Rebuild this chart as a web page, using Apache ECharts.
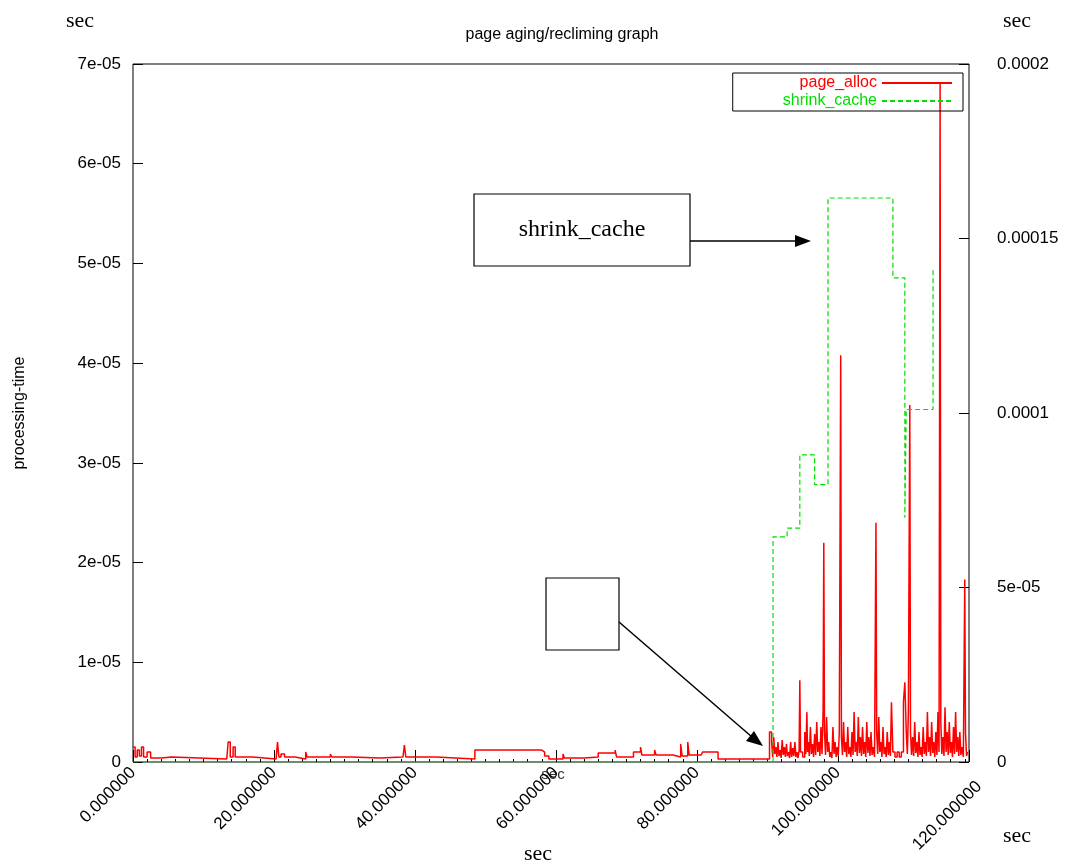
<!DOCTYPE html>
<html><head><meta charset="utf-8">
<script src="https://cdn.jsdelivr.net/npm/echarts@6/dist/echarts.min.js"></script>
<style>html,body{margin:0;padding:0;background:#fff}#c{width:1077px;height:867px}</style>
</head><body><div id="c"></div>
<script>
// page_alloc: [sec, processing-time in 1e-5 units]
const pageAlloc = [
[0,0.15],[0.3,0.05],[0.6,0.12],[0.9,0.06],[1.2,0.15],[1.5,0.05],[2.0,0.1],[2.5,0.04],[4.0,0.05],[5.5,0.03],
[13.3,0.05],[13.5,0.2],[13.8,0.05],[14.2,0.15],[14.5,0.05],[17,0.03],[20.3,0.05],[20.5,0.2],[20.7,0.05],[21,0.08],
[21.5,0.05],[23,0.03],[24.5,0.1],[24.7,0.05],[28,0.08],[28.2,0.05],[31,0.04],[35,0.05],[38.3,0.05],[38.5,0.17],
[38.7,0.05],[43,0.03],[48.5,0.12],[58,0.12],[58.2,0.1],[58.4,0.06],[59,0.03],[61,0.08],[61.2,0.04],[64,0.05],
[66,0.09],[68.4,0.12],[68.6,0.05],[71,0.1],[72,0.15],[72.2,0.07],[74,0.12],[74.2,0.07],[76.6,0.05],[77.7,0.18],
[77.9,0.06],[78.7,0.2],[78.9,0.07],[80.6,0.06],[80.8,0.1],[83,0.03],[90,0.03],[90.3,0.3],
[90.6,0.2],[90.75,0.05],[90.9,0.25],[91.05,0.08],[91.2,0.15],[91.35,0.05],[91.5,0.2],[91.65,0.06],[91.8,0.12],[91.95,0.04],
[92.1,0.22],[92.25,0.07],[92.4,0.15],[92.55,0.05],[92.7,0.18],[92.85,0.06],[93.0,0.1],[93.15,0.04],[93.3,0.2],[93.45,0.05],
[93.6,0.14],[93.75,0.06],[93.9,0.2],[94.05,0.05],[94.2,0.1],[94.35,0.04],[94.5,0.12],[94.6,0.82],[94.7,0.1],[95.0,0.05],
[95.3,0.3],[95.45,0.08],[95.6,0.5],[95.7,0.1],[95.8,0.2],[95.95,0.06],[96.1,0.35],[96.25,0.08],[96.4,0.18],[96.55,0.05],
[96.7,0.28],[96.85,0.07],[97.0,0.4],[97.15,0.1],[97.3,0.2],[97.45,0.06],[97.6,0.35],[97.75,0.08],[97.9,0.5],[98.0,2.2],
[98.1,0.3],[98.25,0.07],[98.4,0.45],[98.55,0.1],[98.7,0.2],[98.85,0.05],[99.0,0.1],[99.15,0.04],[99.3,0.35],[99.45,0.08],
[99.6,0.2],[99.75,0.05],[99.9,0.15],[100.05,0.06],[100.2,0.3],[100.4,4.08],[100.5,0.25],[100.65,0.07],[100.8,0.4],[100.95,0.1],
[101.1,0.2],[101.25,0.05],[101.4,0.35],[101.55,0.08],[101.7,0.15],[101.85,0.05],[102.0,0.3],[102.15,0.07],[102.3,0.5],[102.45,0.1],
[102.6,0.2],[102.75,0.06],[102.9,0.45],[103.05,0.09],[103.2,0.25],[103.35,0.06],[103.5,0.35],[103.65,0.08],[103.8,0.2],[103.95,0.05],
[104.1,0.4],[104.25,0.09],[104.4,0.25],[104.55,0.06],[104.7,0.3],[104.85,0.07],[105.0,0.15],[105.2,0.05],[105.4,2.4],[105.5,0.3],
[105.65,0.08],[105.8,0.45],[105.95,0.1],[106.1,0.2],[106.25,0.05],[106.4,0.35],[106.55,0.08],[106.7,0.15],[106.85,0.05],[107.0,0.3],
[107.15,0.07],[107.3,0.2],[107.45,0.06],[107.6,0.6],[107.8,0.1],[108.1,0.05],[108.4,0.1],[108.7,0.05],[109.0,0.1],[109.3,0.6],
[109.5,0.8],[109.7,0.3],[109.85,0.08],[110.0,0.5],[110.2,3.58],[110.3,0.3],[110.45,0.07],[110.6,0.25],[110.75,0.06],[110.9,0.4],
[111.05,0.09],[111.2,0.2],[111.35,0.05],[111.5,0.3],[111.65,0.07],[111.8,0.15],[111.95,0.05],[112.1,0.35],[112.25,0.08],[112.4,0.2],
[112.55,0.06],[112.7,0.5],[112.85,0.1],[113.0,0.25],[113.15,0.06],[113.3,0.4],[113.45,0.09],[113.6,0.2],[113.75,0.05],[113.9,0.3],
[114.05,0.07],[114.2,0.5],[114.35,0.1],[114.5,6.8],[114.6,0.4],[114.75,0.08],[114.9,0.25],[115.05,0.06],[115.2,0.55],[115.35,0.1],
[115.5,0.3],[115.65,0.07],[115.8,0.4],[115.95,0.09],[116.1,0.2],[116.25,0.05],[116.4,0.35],[116.55,0.08],[116.7,0.5],[116.85,0.1],
[117.0,0.25],[117.15,0.06],[117.3,0.3],[117.45,0.07],[117.6,0.15],[117.8,0.05],[118.0,1.83],[118.1,0.3],[118.25,0.06],[118.4,0.1]
];
// shrink_cache: [sec, value in 1e-5 units, right axis]
const shrinkCache = [[0,0],[90.8,0],[90.8,6.45],[92.8,6.7],[94.6,8.8],[96.7,7.95],[98.6,16.16],[107.8,13.87],[109.5,7.0],[109.7,10.1],[113.5,14.15],[113.55,14.15]];
const leftTicks = {0:'0',1:'1e-05',2:'2e-05',3:'3e-05',4:'4e-05',5:'5e-05',6:'6e-05',7:'7e-05'};
const rightTicks = {0:'0',5:'5e-05',10:'0.0001',15:'0.00015',20:'0.0002'};
const xMax = 118.6;

const F = 'Liberation Sans';
const chart = echarts.init(document.getElementById('c'));
chart.setOption({
  animation:false,
  title:{text:'page aging/recliming graph',left:557,top:22,textAlign:'center',textStyle:{fontFamily:F,fontSize:16,fontWeight:'normal',color:'#000'}},
  grid:{left:133,right:108,top:64,bottom:105,show:true,borderColor:'#000',borderWidth:1},
  legend:{right:114,top:73,orient:'vertical',align:'right',itemGap:2,itemWidth:70,itemHeight:10,
    borderColor:'#000',borderWidth:1,padding:[2,10,2,50],itemStyle:{opacity:0},
    textStyle:{fontFamily:F,fontSize:16},
    data:[{name:'page_alloc',textStyle:{color:'#ff0000'}},{name:'shrink_cache',textStyle:{color:'#00dd00'}}]},
  xAxis:{type:'value',min:0,max:xMax,interval:20,
    axisLine:{show:false},axisTick:{inside:true,length:12,lineStyle:{color:'#000'}},
    minorTick:{show:true,splitNumber:10,length:3,lineStyle:{color:'#000'}},
    splitLine:{show:false},
    axisLabel:{rotate:45,fontFamily:F,fontSize:17,color:'#000',margin:8,formatter:v=>(v%20===0?v.toFixed(6):'')}},
  yAxis:[
    {type:'value',min:0,max:7,interval:1,name:'processing-time',nameLocation:'middle',nameGap:105,nameRotate:90,
     nameTextStyle:{fontFamily:F,fontSize:16,color:'#000'},
     axisLine:{show:false},axisTick:{inside:true,length:10,lineStyle:{color:'#000'}},splitLine:{show:false},
     axisLabel:{fontFamily:F,fontSize:17,color:'#000',margin:12,formatter:v=>leftTicks[Math.round(v)]}},
    {type:'value',min:0,max:20,interval:5,position:'right',
     axisLine:{show:false},axisTick:{inside:true,length:10,lineStyle:{color:'#000'}},splitLine:{show:false},
     axisLabel:{fontFamily:F,fontSize:17,color:'#000',margin:28,formatter:v=>rightTicks[Math.round(v)]}}
  ],
  series:[
    {name:'page_alloc',type:'line',step:'end',data:pageAlloc,yAxisIndex:0,symbol:'none',color:'#ff0000',lineStyle:{width:1.5}},
    {name:'shrink_cache',type:'line',step:'end',data:shrinkCache,yAxisIndex:1,symbol:'none',color:'#00dd00',lineStyle:{width:1.2,type:[5,3]}}
  ],
  graphic:[
    {type:'text',x:979,y:784,rotation:Math.PI/4,style:{text:'120.000000',font:'17px Liberation Sans',fill:'#000',align:'right',verticalAlign:'middle'}},
    {type:'text',x:553,y:775,style:{text:'sec',font:'15px Liberation Sans',fill:'#333',align:'center',verticalAlign:'middle'}},
    {type:'text',x:66,y:10,style:{text:'sec',font:'22px Liberation Serif',fill:'#000'}},
    {type:'text',x:1003,y:10,style:{text:'sec',font:'22px Liberation Serif',fill:'#000'}},
    {type:'text',x:1003,y:825,style:{text:'sec',font:'22px Liberation Serif',fill:'#000'}},
    {type:'text',x:524,y:843,style:{text:'sec',font:'22px Liberation Serif',fill:'#000'}},
    {type:'rect',shape:{x:474,y:194,width:216,height:72},style:{fill:'#fff',stroke:'#000',lineWidth:1.2}},
    {type:'text',x:582,y:230,style:{text:'shrink_cache',font:'24px Liberation Serif',fill:'#000',align:'center',verticalAlign:'middle'}},
    {type:'rect',shape:{x:546,y:578,width:73,height:72},style:{fill:'#fff',stroke:'#000',lineWidth:1.2}},
    {type:'line',shape:{x1:690,y1:241,x2:798,y2:241},style:{stroke:'#000',lineWidth:1.5}},
    {type:'polygon',shape:{points:[[811,241],[795,235],[795,247]]},style:{fill:'#000'}},
    {type:'line',shape:{x1:619,y1:622,x2:752,y2:737},style:{stroke:'#000',lineWidth:1.5}},
    {type:'polygon',shape:{points:[[763,746],[746,741],[754,731]]},style:{fill:'#000'}}
  ]
});
</script></body></html>
